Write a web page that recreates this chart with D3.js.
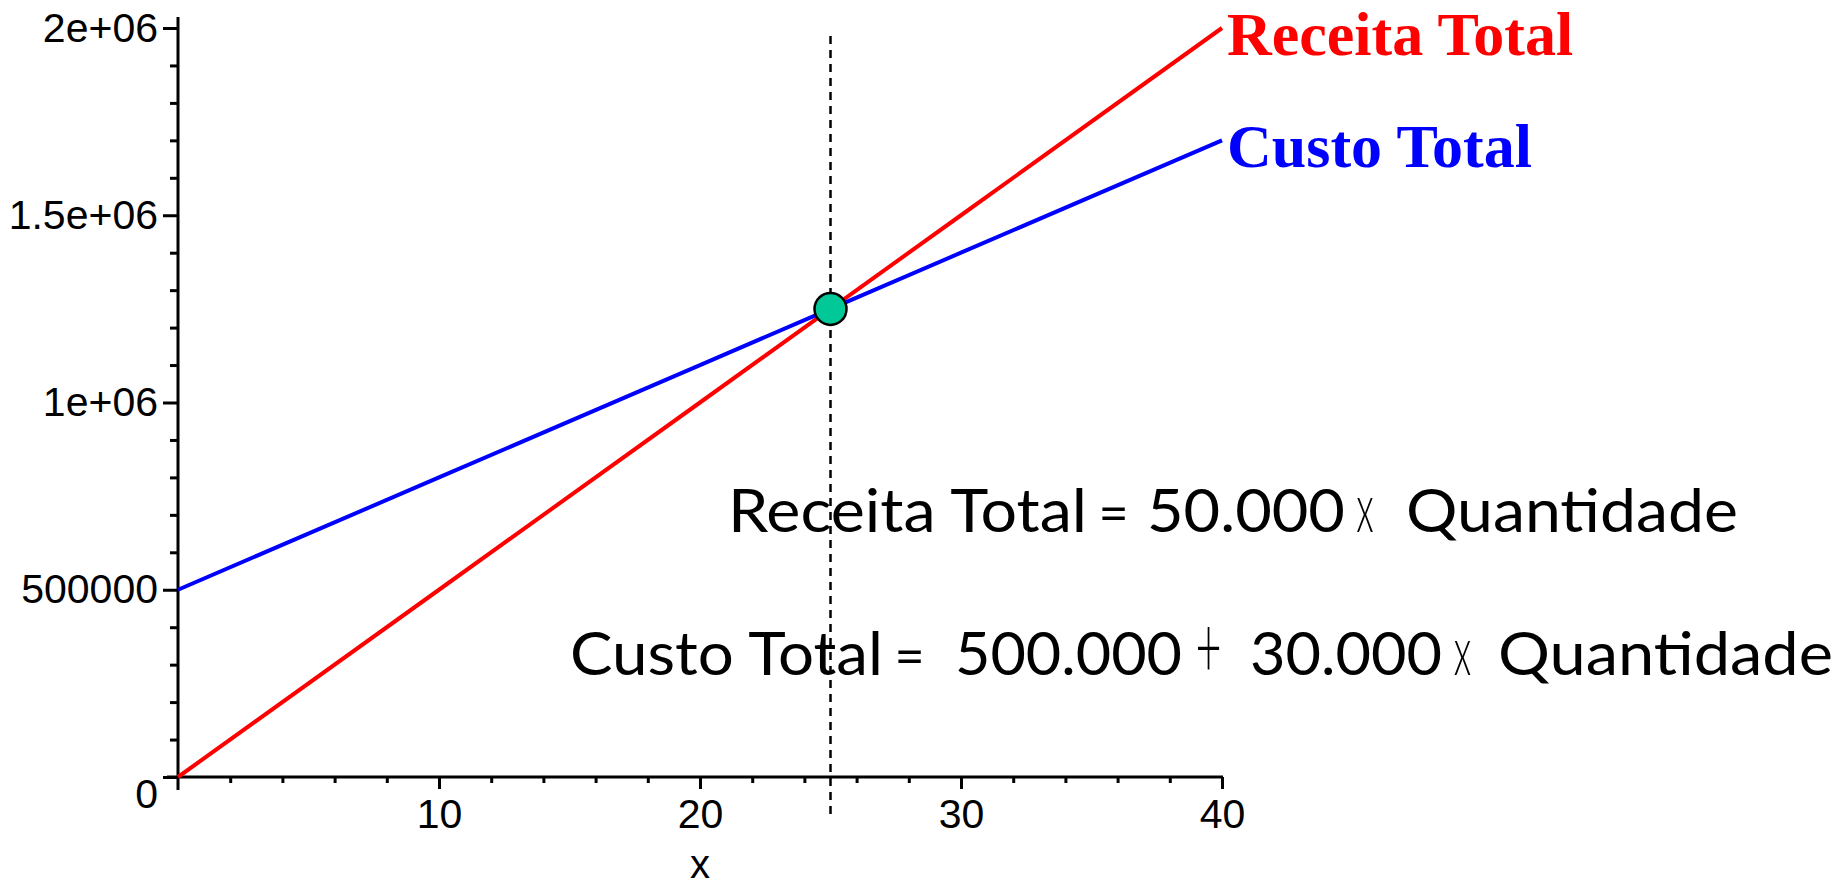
<!DOCTYPE html>
<html>
<head>
<meta charset="utf-8">
<script src="https://cdn.jsdelivr.net/npm/d3@7"></script>
<style>
  body { margin: 0; background: #fff; }
  svg { display: block; }
  .tick text { font-family: "Liberation Sans", Arial, sans-serif; }
</style>
</head>
<body>
<figure id="chart_view" style="margin:0"></figure>
<script>
// Quantities (x) and the two totals
const quantidade = [0, 10, 20, 25, 30, 40];
const receitaTotal = [0, 500000, 1000000, 1250000, 1500000, 2000000];
const custoTotal = [500000, 800000, 1100000, 1250000, 1400000, 1700000];

// Break-even point
const equilibrio = { q: 25, v: 1250000 };

// Axis ticks
const xMajorTicks = [10, 20, 30, 40];
const xTickLabels = ["10", "20", "30", "40"];
const xMinorTicks = [2, 4, 6, 8, 12, 14, 16, 18, 22, 24, 26, 28, 32, 34, 36, 38];
const yMajorTicks = [0, 500000, 1000000, 1500000, 2000000];
const yTickLabels = ["0", "500000", "1e+06", "1.5e+06", "2e+06"];
const yMinorTicks = [100000, 200000, 300000, 400000, 600000, 700000, 800000, 900000,
  1100000, 1200000, 1300000, 1400000, 1600000, 1700000, 1800000, 1900000];

const series = [
  { name: "Receita Total", values: receitaTotal, color: "#ff0000" },
  { name: "Custo Total", values: custoTotal, color: "#0000ff" }
];

// Equation text, each piece with its left/right edge in the picture
const eqLine1 = [
  { t: "Receita Total", x0: 728, x1: 1087 },
  { t: "=", x0: 1101, x1: 1126, sym: true },
  { t: "50.000", x0: 1147, x1: 1345 },
  { t: "x", x0: 1354, x1: 1376, sym: true },
  { t: "Quantidade", x0: 1406, x1: 1738 }
];
const eqLine2 = [
  { t: "Custo Total", x0: 570, x1: 883 },
  { t: "=", x0: 897, x1: 922, sym: true },
  { t: "500.000", x0: 955, x1: 1182 },
  { t: "+", x0: 1196, x1: 1221, sym: true },
  { t: "30.000", x0: 1250, x1: 1442 },
  { t: "x", x0: 1452, x1: 1473, sym: true },
  { t: "Quantidade", x0: 1498, x1: 1833 }
];

const width = 1848;
const height = 887;

const x = d3.scaleLinear().domain([0, 40]).range([178, 1222]);
const y = d3.scaleLinear().domain([0, 2000000]).range([777, 28]);

const svg = d3.select("figure#chart_view")
  .append("svg")
  .attr("width", width)
  .attr("height", height)
  .attr("viewBox", `0 0 ${width} ${height}`);

// Minor ticks
svg.append("g")
  .attr("transform", `translate(${x(0)},0)`)
  .call(d3.axisLeft(y).tickValues(yMinorTicks).tickSize(8).tickFormat(""))
  .call(g => g.select(".domain").remove())
  .selectAll("line").attr("stroke-width", 3);

svg.append("g")
  .attr("transform", `translate(0,${y(0)})`)
  .call(d3.axisBottom(x).tickValues(xMinorTicks).tickSize(6).tickFormat(""))
  .call(g => g.select(".domain").remove())
  .selectAll("line").attr("stroke-width", 3);

// Major ticks with labels
const yAxis = svg.append("g")
  .attr("transform", `translate(${x(0)},0)`)
  .call(d3.axisLeft(y).tickValues(yMajorTicks).tickSize(15).tickPadding(5)
    .tickFormat((d, i) => yTickLabels[i]))
  .call(g => g.select(".domain").remove());
yAxis.selectAll("line").attr("stroke-width", 3);
yAxis.selectAll("text")
  .attr("font-size", 41)
  .attr("fill", "#000")
  .attr("y", d => d === 0 ? 17 : 0);

const xAxis = svg.append("g")
  .attr("transform", `translate(0,${y(0)})`)
  .call(d3.axisBottom(x).tickValues(xMajorTicks).tickSize(12).tickPadding(10)
    .tickFormat((d, i) => xTickLabels[i]))
  .call(g => g.select(".domain").remove());
xAxis.selectAll("line").attr("stroke-width", 3);
xAxis.selectAll("text")
  .attr("font-size", 41)
  .attr("fill", "#000");

// Axis lines, running a little past the origin like the original
svg.append("line")
  .attr("x1", x(0)).attr("x2", x(0))
  .attr("y1", y(2000000) - 11).attr("y2", y(0) + 13)
  .attr("stroke", "#000").attr("stroke-width", 3);
svg.append("line")
  .attr("x1", x(0) - 11).attr("x2", x(40) + 1)
  .attr("y1", y(0)).attr("y2", y(0))
  .attr("stroke", "#000").attr("stroke-width", 3);

svg.append("text")
  .attr("x", x(20))
  .attr("y", 878)
  .attr("text-anchor", "middle")
  .attr("font-family", "Liberation Sans, Arial, sans-serif")
  .attr("font-size", 40)
  .text("x");

// Break-even dashed line
svg.append("line")
  .attr("x1", x(equilibrio.q)).attr("x2", x(equilibrio.q))
  .attr("y1", y(2000000) + 8).attr("y2", y(0) + 41)
  .attr("stroke", "#000")
  .attr("stroke-width", 2.5)
  .attr("stroke-dasharray", "8,6");

// Series lines
const line = d3.line()
  .x((d, i) => x(quantidade[i]))
  .y(d => y(d));

svg.append("g")
  .attr("fill", "none")
  .attr("stroke-width", 4)
  .selectAll("path")
  .data(series)
  .join("path")
  .attr("stroke", d => d.color)
  .attr("d", d => line(d.values));

// Series labels at the line ends
svg.append("g")
  .selectAll("text")
  .data(series)
  .join("text")
  .attr("x", x(40) + 5)
  .attr("y", d => y(d.values[d.values.length - 1]) + 27)
  .attr("font-family", "Liberation Serif, Times New Roman, serif")
  .attr("font-weight", "bold")
  .attr("font-size", 62)
  .attr("fill", d => d.color)
  .text(d => d.name);

// Break-even marker
svg.append("circle")
  .attr("cx", x(equilibrio.q))
  .attr("cy", y(equilibrio.v))
  .attr("r", 16)
  .attr("fill", "#00c896")
  .attr("stroke", "#000")
  .attr("stroke-width", 2.5);

// Equations
function drawEquation(pieces, baseline) {
  const g = svg.append("g")
    .attr("font-family", "Lato, Carlito, Calibri, sans-serif")
    .attr("fill", "#000");

  // words and numbers, stretched to the width they have in the picture
  g.selectAll("text.word")
    .data(pieces.filter(d => !d.sym))
    .join("text")
    .attr("class", "word")
    .attr("x", d => d.x0)
    .attr("y", baseline)
    .attr("font-size", 60)
    .attr("textLength", d => d.x1 - d.x0)
    .attr("lengthAdjust", "spacingAndGlyphs")
    .text(d => d.t);

  // operators: thin and tall, centred in their slot
  g.selectAll("text.sym")
    .data(pieces.filter(d => d.sym))
    .join("text")
    .attr("class", "sym")
    .attr("text-anchor", "middle")
    .attr("transform", d => {
      const cx = (d.x0 + d.x1) / 2;
      if (d.t === "+") return `translate(${cx},${baseline}) scale(0.9,1.75)`;
      if (d.t === "x") return `translate(${cx},${baseline}) scale(0.62,1.15)`;
      return `translate(${cx},${baseline})`;
    })
    .attr("y", d => d.t === "+" ? 1.5 : 0)
    .attr("font-size", d => d.t === "=" ? 52 : d.t === "+" ? 50 : 60)
    .attr("font-weight", d => d.t === "=" ? 400 : 300)
    .text(d => d.t);
}
drawEquation(eqLine1, 532);
drawEquation(eqLine2, 675);
</script>
</body>
</html>
